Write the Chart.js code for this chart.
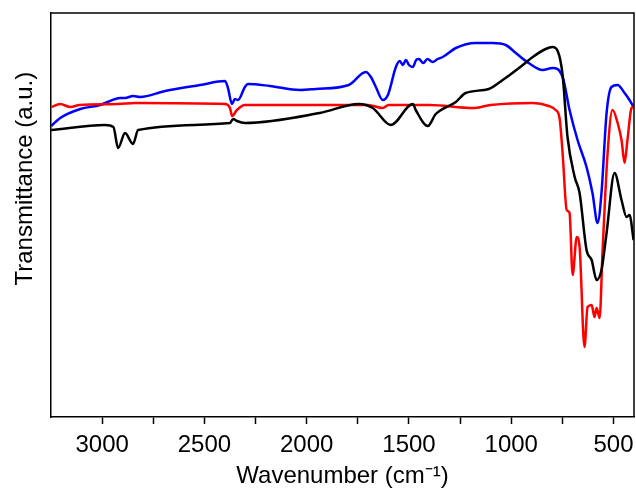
<!DOCTYPE html>
<html>
<head>
<meta charset="utf-8">
<script src="https://cdn.jsdelivr.net/npm/chart.js@4.4.1/dist/chart.umd.min.js"></script>
<style>
    html, body { margin: 0; padding: 0; background: #ffffff; }
    #wrap { width: 636px; height: 488px; }
</style>
</head>
<body>
<div id="wrap"><canvas id="ftirChart"></canvas></div>
<script>
Chart.defaults.font.family = "'Liberation Sans', Arial, sans-serif";
Chart.defaults.color = "#000000";

// wavenumber ticks (cm-1), labels only on multiples of 500
const xTicks = [3000, 2750, 2500, 2250, 2000, 1750, 1500, 1250, 1000, 750, 500];

// black spectrum
const blackWn = [3249, 2985, 2945, 2922, 2888, 2849, 2824, 2375, 2360, 2341, 2302, 1936, 1745, 1677, 1589, 1481, 1467, 1408, 1369, 1271, 1223, 1110, 1042, 944, 895, 832, 798, 773, 749, 725, 690, 666, 632, 607, 583, 559, 534, 495, 461, 436, 422, 402];
const blackT  = [287, 292, 290, 269, 284, 273, 287, 294, 298, 296, 294, 304, 313, 309, 292, 313, 307, 291, 303, 315, 324, 328, 337, 352, 360, 368, 370, 366, 342, 280, 240, 224, 167, 157, 137, 147, 184, 244, 217, 200, 202, 177];

// red spectrum
const redWn = [3249, 3205, 3156, 3110, 2922, 2839, 2400, 2375, 2365, 2341, 2302, 2000, 1700, 1628, 1600, 1400, 1188, 1100, 895, 817, 783, 764, 749, 729, 715, 700, 680, 666, 642, 627, 607, 593, 583, 568, 554, 529, 505, 480, 461, 446, 432, 412, 402];
const redT  = [310, 313, 310, 312, 313, 314, 313, 309, 301, 307, 312, 312, 312, 309, 312, 312, 309, 312, 314, 311, 307, 299, 264, 207, 204, 142, 180, 170, 70, 110, 112, 100, 109, 99, 164, 264, 307, 294, 277, 254, 277, 309, 310];

// blue spectrum
const blueWn = [3249, 3205, 3107, 3010, 2936, 2912, 2888, 2849, 2814, 2692, 2521, 2399, 2385, 2365, 2351, 2336, 2302, 2287, 2180, 2033, 1955, 1794, 1711, 1686, 1662, 1628, 1603, 1564, 1545, 1530, 1515, 1500, 1481, 1465, 1452, 1430, 1410, 1384, 1360, 1335, 1271, 1174, 1091, 1027, 978, 915, 847, 798, 749, 715, 676, 632, 603, 578, 559, 534, 510, 480, 446, 422, 402];
const blueT  = [291, 299, 308, 312, 318, 319, 319, 321, 320, 326, 332, 336, 329, 313, 318, 317, 330, 333, 331, 327, 328, 332, 345, 340, 330, 317, 322, 350, 356, 352, 357, 352, 350, 357, 358, 354, 358, 355, 358, 360, 369, 374, 374, 372, 364, 354, 347, 349, 340, 307, 277, 250, 224, 194, 224, 304, 330, 332, 324, 317, 310];

const yTitle = "Transmittance (a.u.)";

function toPoints(wn, t) {
    return wn.map((w, i) => ({ x: w, y: t[i] }));
}

function lineSet(label, wn, t, color) {
    return {
        label: label,
        data: toPoints(wn, t),
        borderColor: color,
        borderWidth: 2.5,
        pointRadius: 0,
        fill: false,
        cubicInterpolationMode: "monotone"
    };
}

// box around the plot area (top and right sides) + y title sitting a bit high like the original
const frameBox = {
    id: "frameBox",
    afterDraw(chart) {
        const a = chart.chartArea;
        const ctx = chart.ctx;
        ctx.save();
        ctx.strokeStyle = "#000000";
        ctx.lineWidth = 1.5;
        ctx.beginPath();
        ctx.moveTo(a.left, a.top);
        ctx.lineTo(a.right, a.top);
        ctx.lineTo(a.right, a.bottom);
        ctx.stroke();

        ctx.translate(25, a.top + (a.bottom - a.top) * 0.41);
        ctx.rotate(-Math.PI / 2);
        ctx.fillStyle = "#000000";
        ctx.font = "24px 'Liberation Sans', Arial, sans-serif";
        ctx.textAlign = "center";
        ctx.textBaseline = "middle";
        ctx.fillText(yTitle, 0, 0);
        ctx.restore();
    }
};

new Chart(document.getElementById("ftirChart"), {
    type: "line",
    data: {
        datasets: [
            lineSet("black", blackWn, blackT, "#000000"),
            lineSet("red", redWn, redT, "#ff0000"),
            lineSet("blue", blueWn, blueT, "#0000ff")
        ]
    },
    options: {
        responsive: true,
        maintainAspectRatio: false,
        animation: false,
        layout: {
            padding: { top: 13, right: 2, left: 10, bottom: 0 }
        },
        plugins: {
            legend: { display: false },
            tooltip: { enabled: false }
        },
        scales: {
            x: {
                type: "linear",
                reverse: true,
                min: 400,
                max: 3250,
                afterBuildTicks: (scale) => {
                    scale.ticks = xTicks.map(v => ({ value: v }));
                },
                afterFit: (scale) => {
                    scale.height = 71;
                    scale.paddingLeft = 0;
                    scale.paddingRight = 0;
                },
                grid: {
                    drawOnChartArea: false,
                    drawTicks: true,
                    tickLength: 7,
                    tickColor: "#000000",
                    tickWidth: 1.5
                },
                border: { display: true, color: "#000000", width: 1.5 },
                ticks: {
                    autoSkip: false,
                    maxRotation: 0,
                    padding: 7,
                    color: "#000000",
                    font: { size: 24 },
                    callback: (v) => (v % 500 === 0 ? String(v) : "")
                },
                title: {
                    display: true,
                    text: "Wavenumber (cm\u207B\u00B9)",
                    color: "#000000",
                    font: { size: 24, lineHeight: 1.0 },
                    padding: { top: 0, bottom: 0 }
                }
            },
            y: {
                min: 0,
                max: 404,
                afterFit: (scale) => {
                    scale.width = 41;
                },
                grid: { display: false },
                border: { display: true, color: "#000000", width: 1.5 },
                ticks: { display: false },
                title: { display: false }
            }
        }
    },
    plugins: [frameBox]
});
</script>
</body>
</html>
